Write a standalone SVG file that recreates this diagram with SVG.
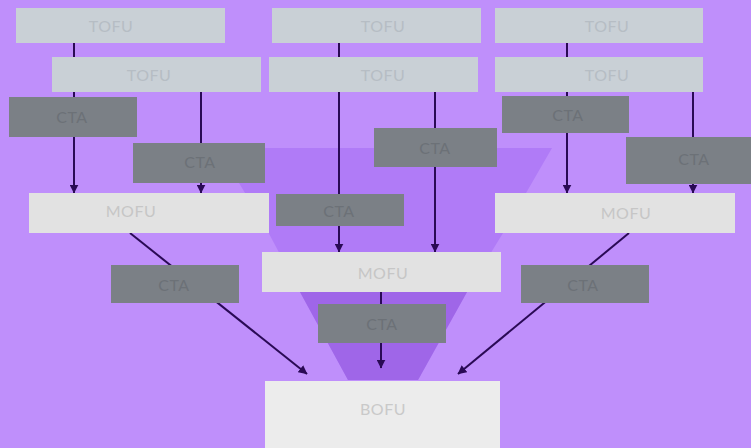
<svg xmlns="http://www.w3.org/2000/svg" width="751" height="448" viewBox="0 0 751 448">
  <style>
    .lbl { font-family: "Lato", "Liberation Sans", sans-serif; font-size: 16px; text-anchor: middle; dominant-baseline: central; letter-spacing: 0.5px; }
    .tofu rect { fill: #c9d0d6; }
    .tofu text { fill: #b6bdc4; }
    .cta rect { fill: #7b8086; }
    .cta text { fill: #6c7177; }
    .mofu rect { fill: #e2e2e2; }
    .mofu text { fill: #c6c6c6; }
    .bofu rect { fill: #ececec; }
    .bofu text { fill: #c9c9c9; }
    .link { stroke: #2a0a55; stroke-width: 2; fill: none; }
  </style>
  <defs>
    <marker id="arrow" viewBox="0 0 8 8" refX="7.5" refY="4" markerWidth="4.5" markerHeight="4.5" orient="auto" markerUnits="strokeWidth">
      <path d="M0,0 L8,4 L0,8 Z" fill="#2a0a55"/>
    </marker>
  </defs>

  <!-- backdrop -->
  <rect x="0" y="0" width="751" height="448" fill="#bf8ffb"/>

  <!-- funnel -->
  <g id="funnel">
    <polygon points="218,148 552,148 503,233 467,292 418,380 348,380 300,292 266,228" fill="#b07bf7"/>
    <polygon points="300,292 467,292 418,380 348,380" fill="#9f66e8"/>
  </g>

  <!-- connectors -->
  <g id="connectors">
    <line class="link" x1="74" y1="43" x2="74" y2="193" marker-end="url(#arrow)"/>
    <line class="link" x1="201" y1="92" x2="201" y2="193" marker-end="url(#arrow)"/>
    <line class="link" x1="339" y1="43" x2="339" y2="252" marker-end="url(#arrow)"/>
    <line class="link" x1="435" y1="92" x2="435" y2="252" marker-end="url(#arrow)"/>
    <line class="link" x1="567" y1="43" x2="567" y2="193" marker-end="url(#arrow)"/>
    <line class="link" x1="693" y1="92" x2="693" y2="193" marker-end="url(#arrow)"/>
    <line class="link" x1="381" y1="292" x2="381" y2="368" marker-end="url(#arrow)"/>
    <line class="link" x1="130" y1="233" x2="307" y2="374" marker-end="url(#arrow)"/>
    <line class="link" x1="629" y1="233" x2="458" y2="374" marker-end="url(#arrow)"/>
  </g>

  <!-- top of funnel -->
  <g id="tofu-1" class="tofu"><rect x="16" y="8" width="209" height="35"/><text class="lbl" x="111" y="25">TOFU</text></g>
  <g id="tofu-2" class="tofu"><rect x="272" y="8" width="209" height="35"/><text class="lbl" x="383" y="25">TOFU</text></g>
  <g id="tofu-3" class="tofu"><rect x="495" y="8" width="208" height="35"/><text class="lbl" x="607" y="25">TOFU</text></g>
  <g id="tofu-4" class="tofu"><rect x="52" y="57" width="209" height="35"/><text class="lbl" x="149" y="74">TOFU</text></g>
  <g id="tofu-5" class="tofu"><rect x="269" y="57" width="209" height="35"/><text class="lbl" x="383" y="74">TOFU</text></g>
  <g id="tofu-6" class="tofu"><rect x="495" y="57" width="208" height="35"/><text class="lbl" x="607" y="74">TOFU</text></g>

  <!-- calls to action -->
  <g id="cta-1" class="cta"><rect x="9" y="97" width="128" height="40"/><text class="lbl" x="72" y="116">CTA</text></g>
  <g id="cta-2" class="cta"><rect x="133" y="143" width="132" height="40"/><text class="lbl" x="200" y="161">CTA</text></g>
  <g id="cta-3" class="cta"><rect x="374" y="128" width="123" height="39"/><text class="lbl" x="435" y="147">CTA</text></g>
  <g id="cta-4" class="cta"><rect x="276" y="194" width="128" height="32"/><text class="lbl" x="339" y="210">CTA</text></g>
  <g id="cta-5" class="cta"><rect x="502" y="96" width="127" height="37"/><text class="lbl" x="568" y="114">CTA</text></g>
  <g id="cta-6" class="cta"><rect x="626" y="137" width="125" height="47"/><text class="lbl" x="694" y="158">CTA</text></g>
  <g id="cta-7" class="cta"><rect x="111" y="265" width="128" height="38"/><text class="lbl" x="174" y="284">CTA</text></g>
  <g id="cta-8" class="cta"><rect x="521" y="265" width="128" height="38"/><text class="lbl" x="583" y="284">CTA</text></g>
  <g id="cta-9" class="cta"><rect x="318" y="304" width="128" height="39"/><text class="lbl" x="382" y="323">CTA</text></g>

  <!-- middle of funnel -->
  <g id="mofu-1" class="mofu"><rect x="29" y="193" width="240" height="40"/><text class="lbl" x="131" y="210">MOFU</text></g>
  <g id="mofu-2" class="mofu"><rect x="262" y="252" width="239" height="40"/><text class="lbl" x="383" y="272">MOFU</text></g>
  <g id="mofu-3" class="mofu"><rect x="495" y="193" width="240" height="40"/><text class="lbl" x="626" y="212">MOFU</text></g>

  <!-- bottom of funnel -->
  <g id="bofu" class="bofu"><rect x="265" y="381" width="235" height="67"/><text class="lbl" x="383" y="408">BOFU</text></g>
</svg>
